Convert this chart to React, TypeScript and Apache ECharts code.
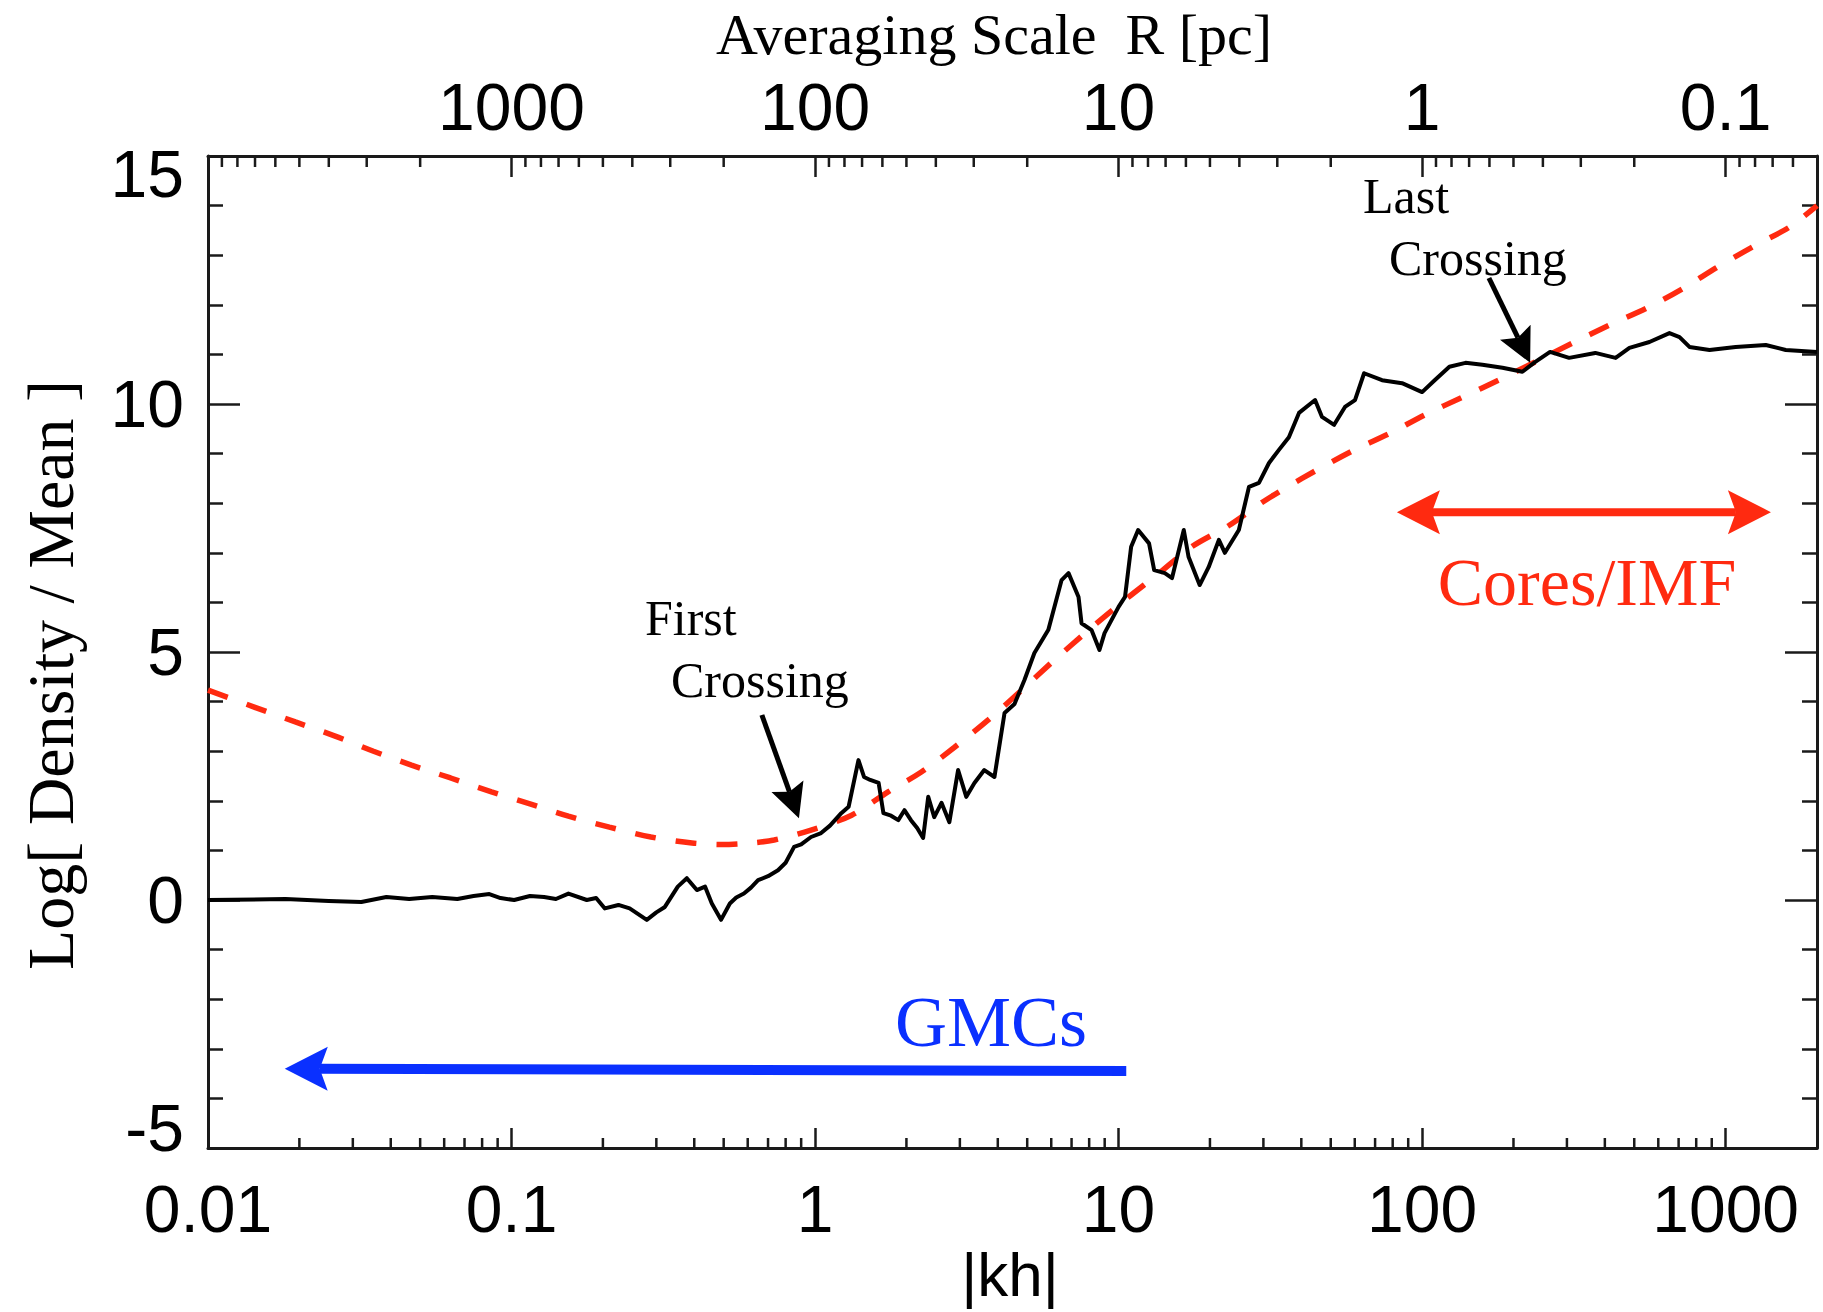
import React, { useEffect, useRef } from 'react';
import * as echarts from 'echarts';

// ---- Data ----
// Black curve: |kh| and Log[Density/Mean]
const kBlack = [0.01, 0.018, 0.025, 0.032, 0.0387, 0.046, 0.0548, 0.0663, 0.075, 0.0845, 0.092, 0.102, 0.115, 0.128, 0.140, 0.154, 0.177, 0.190, 0.203, 0.225, 0.245, 0.279, 0.300, 0.320, 0.353, 0.378, 0.408, 0.434, 0.457, 0.490, 0.524, 0.550, 0.583, 0.615, 0.649, 0.700, 0.755, 0.800, 0.853, 0.900, 0.970, 1.047, 1.12, 1.22, 1.29, 1.39, 1.45, 1.52, 1.62, 1.68, 1.78, 1.88, 1.97, 2.07, 2.17, 2.27, 2.36, 2.47, 2.61, 2.77, 2.96, 3.15, 3.35, 3.61, 3.90, 4.21, 4.54, 4.90, 5.28, 5.87, 6.49, 6.84, 7.38, 7.55, 8.15, 8.65, 8.99, 10.0, 10.5, 11.0, 11.6, 12.6, 13.1, 14.2, 15.0, 16.4, 17.0, 18.5, 19.8, 21.4, 22.4, 24.9, 26.9, 29.0, 31.3, 33.7, 36.4, 39.3, 44.4, 46.8, 51.3, 55.7, 60.1, 64.4, 73.8, 85.9, 100, 110, 123, 139, 158, 184, 214, 236, 264, 305, 372, 434, 482, 561, 653, 705, 760, 885, 1079, 1356, 1578, 2000];
const densityBlack = [0, 0.02, -0.02, -0.04, 0.06, 0.02, 0.06, 0.02, 0.08, 0.12, 0.04, 0, 0.08, 0.06, 0.02, 0.13, 0, 0.04, -0.17, -0.10, -0.17, -0.40, -0.25, -0.14, 0.27, 0.44, 0.20, 0.27, -0.07, -0.40, -0.07, 0.05, 0.13, 0.25, 0.40, 0.48, 0.60, 0.75, 1.07, 1.12, 1.27, 1.35, 1.50, 1.75, 1.88, 2.82, 2.48, 2.42, 2.36, 1.75, 1.70, 1.61, 1.81, 1.61, 1.45, 1.25, 2.08, 1.67, 1.96, 1.57, 2.62, 2.08, 2.36, 2.62, 2.48, 3.77, 3.95, 4.44, 4.98, 5.45, 6.45, 6.59, 6.11, 5.58, 5.44, 5.04, 5.38, 5.91, 6.11, 7.12, 7.46, 7.19, 6.65, 6.59, 6.49, 7.46, 6.92, 6.35, 6.71, 7.26, 7.00, 7.46, 8.33, 8.41, 8.81, 9.07, 9.33, 9.82, 10.08, 9.74, 9.58, 9.94, 10.08, 10.62, 10.48, 10.42, 10.24, 10.48, 10.75, 10.83, 10.79, 10.73, 10.65, 10.85, 11.05, 10.93, 11.03, 10.93, 11.13, 11.25, 11.43, 11.35, 11.15, 11.09, 11.15, 11.19, 11.09, 11.05];

// Red dashed barrier
const kBarrier = [0.01, 0.0142, 0.0194, 0.0261, 0.0351, 0.0468, 0.0630, 0.0859, 0.115, 0.154, 0.210, 0.288, 0.393, 0.493, 0.615, 0.733, 0.970, 1.32, 1.74, 2.24, 2.88, 3.72, 4.79, 6.15, 7.96, 10.5, 13.6, 17.4, 23.1, 30.3, 40.2, 58.7, 77.8, 102, 136, 180, 236, 313, 414, 561, 738, 927, 1228, 1626, 2000];
const densityBarrier = [4.23, 3.89, 3.59, 3.31, 3.00, 2.72, 2.46, 2.18, 1.94, 1.69, 1.47, 1.27, 1.15, 1.12, 1.15, 1.21, 1.41, 1.71, 2.18, 2.58, 3.08, 3.63, 4.23, 4.84, 5.44, 6.05, 6.59, 7.12, 7.55, 8.05, 8.50, 9.05, 9.40, 9.78, 10.14, 10.49, 10.85, 11.23, 11.59, 11.96, 12.36, 12.74, 13.17, 13.57, 14.0];

// Tick labels
const bottomTickLabels = ['0.01', '0.1', '1', '10', '100', '1000'];
const topTickLabels = ['1000', '100', '10', '1', '0.1'];
const yTickLabels = ['-5', '0', '5', '10', '15'];
const minorMultipliers = [2, 3, 4, 5, 6, 7, 8, 9];
const kDecades = [0.01, 0.1, 1, 10, 100, 1000];
const rDecades = [0.01, 0.1, 1, 10, 100, 1000];

// Annotation arrows in data coordinates [|kh|, density]
const arrowGMC = [[10.6, -3.45], [0.0179, -3.40]];
const arrowCores = [[82.6, 7.82], [1410, 7.82]];
const arrowFirst = [[0.668, 3.73], [0.885, 1.65]];
const arrowLast = [[166, 12.54], [227, 10.83]];

const SERIF = '"Liberation Serif", "Times New Roman", serif';
const SANS = '"Liberation Sans", Arial, Helvetica, sans-serif';
const RED = '#ff2a10';
const BLUE = '#0a30ff';
const AXIS = '#1a1a1a';

const K_MIN = 0.01;
const K_MAX = 2000;
const R_MIN = 0.05;
const R_MAX = 10000;

function fmt(v: number) {
  return String(Number(Number(v).toPrecision(6)));
}

export default function App() {
  const ref = useRef<HTMLDivElement>(null);
  useEffect(() => {
    document.body.style.margin = '0';
    if (!ref.current) return;
    const chart = echarts.init(ref.current, undefined, { renderer: 'svg' });

    const bottomMinor: number[][] = [];
    kDecades.forEach((d) => minorMultipliers.forEach((m) => {
      const v = d * m;
      if (v > K_MIN && v < K_MAX) bottomMinor.push([v, -5]);
    }));
    const topMinor: number[][] = [];
    rDecades.forEach((d) => minorMultipliers.forEach((m) => {
      const v = d * m;
      if (v > R_MIN && v < R_MAX) topMinor.push([v, 15]);
    }));

    const minorRender = (len: number) => (params: any, api: any) => {
      const p = api.coord([api.value(0), api.value(1)]);
      const dir = api.value(1) > 0 ? 1 : -1;
      return {
        type: 'line',
        shape: { x1: p[0], y1: p[1], x2: p[0], y2: p[1] + dir * len },
        style: { stroke: AXIS, lineWidth: 2.5 },
      };
    };

    const labelStyle = { fontFamily: SANS, fontSize: 66, color: '#000' };

    chart.setOption({
      animation: false,
      backgroundColor: '#fff',
      grid: { left: 208, right: 6, top: 156, bottom: 164, containLabel: false, outerBoundsMode: 'none' },
      xAxis: [
        {
          type: 'log', min: K_MIN, max: K_MAX, position: 'bottom',
          axisLine: { show: true, onZero: false, lineStyle: { color: AXIS, width: 3 } },
          axisTick: { show: true, inside: true, length: 20, lineStyle: { color: AXIS, width: 2.5 } },
          splitLine: { show: false },
          axisLabel: {
            ...labelStyle, margin: 28, showMaxLabel: false,
            formatter: (v: number) => { const s = fmt(v); return bottomTickLabels.includes(s) ? s : ''; },
          },
        },
        {
          type: 'log', min: R_MIN, max: R_MAX, inverse: true, position: 'top',
          axisLine: { show: true, onZero: false, lineStyle: { color: AXIS, width: 3 } },
          axisTick: { show: true, inside: true, length: 21, lineStyle: { color: AXIS, width: 2.5 } },
          splitLine: { show: false },
          axisLabel: {
            ...labelStyle, margin: 16, showMinLabel: false, showMaxLabel: false,
            formatter: (v: number) => { const s = fmt(v); return topTickLabels.includes(s) ? s : ''; },
          },
        },
      ],
      yAxis: [
        {
          type: 'value', min: -5, max: 15, interval: 5, position: 'left',
          axisLine: { show: true, onZero: false, lineStyle: { color: AXIS, width: 3 } },
          axisTick: { show: true, inside: true, length: 32, lineStyle: { color: AXIS, width: 2.5 } },
          minorTick: { show: true, splitNumber: 5, length: 15, lineStyle: { color: AXIS, width: 2.5 } },
          splitLine: { show: false },
          axisLabel: {
            ...labelStyle, margin: 24,
            formatter: (v: number) => {
              const s = fmt(v);
              if (!yTickLabels.includes(s)) return '';
              if (s === '15') return '{lo|' + s + '}';
              if (s === '-5') return '{hi|' + s + '}';
              return s;
            },
            rich: {
              lo: { fontFamily: SANS, fontSize: 66, color: '#000', padding: [36, 0, 0, 0] },
              hi: { fontFamily: SANS, fontSize: 66, color: '#000', padding: [0, 0, 40, 0] },
            },
          },
        },
        {
          type: 'value', min: -5, max: 15, interval: 5, position: 'right',
          axisLine: { show: true, onZero: false, lineStyle: { color: AXIS, width: 3 } },
          axisTick: { show: true, inside: true, length: 32, lineStyle: { color: AXIS, width: 2.5 } },
          minorTick: { show: true, splitNumber: 5, length: 15, lineStyle: { color: AXIS, width: 2.5 } },
          splitLine: { show: false },
          axisLabel: { show: false },
        },
      ],
      series: [
        {
          name: 'barrier', type: 'line', xAxisIndex: 0, yAxisIndex: 0,
          data: kBarrier.map((k, i) => [k, densityBarrier[i]]),
          showSymbol: false, symbol: 'none', smooth: 0.3,
          lineStyle: { color: RED, width: 5.5, type: [21, 20], cap: 'butt' },
          z: 3,
        },
        {
          name: 'density', type: 'line', xAxisIndex: 0, yAxisIndex: 0,
          data: kBlack.map((k, i) => [k, densityBlack[i]]),
          showSymbol: false, symbol: 'none',
          lineStyle: { color: '#000', width: 4, join: 'round' },
          z: 4,
        },
        {
          type: 'custom', xAxisIndex: 0, yAxisIndex: 0, silent: true,
          data: bottomMinor, renderItem: minorRender(10), clip: false, z: 5,
        },
        {
          type: 'custom', xAxisIndex: 1, yAxisIndex: 0, silent: true,
          data: topMinor, renderItem: minorRender(11), clip: false, z: 5,
        },
      ],
    });

    const toPx = (pt: number[]) => chart.convertToPixel({ xAxisIndex: 0, yAxisIndex: 0 }, pt) as number[];

    const arrowEls = (pts: number[][], color: string, shaftW: number, headLen: number, headHalf: number, notch: number, both: boolean) => {
      const a = toPx(pts[0]);
      const b = toPx(pts[1]);
      const dx = b[0] - a[0];
      const dy = b[1] - a[1];
      const L = Math.hypot(dx, dy);
      const ux = dx / L, uy = dy / L;
      const nx = -uy, ny = ux;
      const head = (tip: number[], sx: number, sy: number) => {
        const bx = tip[0] - sx * headLen, by = tip[1] - sy * headLen;
        const mx = tip[0] - sx * (headLen - notch), my = tip[1] - sy * (headLen - notch);
        return {
          type: 'polygon',
          shape: { points: [[tip[0], tip[1]], [bx + nx * headHalf, by + ny * headHalf], [mx, my], [bx - nx * headHalf, by - ny * headHalf]] },
          style: { fill: color },
          z: 20,
        };
      };
      const start = both ? [a[0] + ux * (headLen - notch), a[1] + uy * (headLen - notch)] : a;
      const end = [b[0] - ux * (headLen - notch), b[1] - uy * (headLen - notch)];
      const els: any[] = [
        { type: 'line', shape: { x1: start[0], y1: start[1], x2: end[0], y2: end[1] }, style: { stroke: color, lineWidth: shaftW }, z: 19 },
        head(b, ux, uy),
      ];
      if (both) els.push(head(a, -ux, -uy));
      return els;
    };

    const text = (t: string, x: number, y: number, size: number, color: string, align: string, font = SERIF, rotation = 0) => ({
      type: 'text', x, y, rotation, z: 30,
      style: { text: t, fontSize: size, fontFamily: font, fill: color, align, verticalAlign: 'middle' },
    });

    chart.setOption({
      graphic: [
        ...arrowEls(arrowGMC, BLUE, 10, 43, 22, 8, false),
        ...arrowEls(arrowCores, RED, 8, 43, 22, 8, true),
        ...arrowEls(arrowFirst, '#000', 5, 34, 17, 6, false),
        ...arrowEls(arrowLast, '#000', 5, 34, 17, 6, false),
        text('Averaging Scale  R [pc]', 994, 34, 58, '#000', 'center'),
        text('Log[ Density / Mean ]', 50, 675, 66, '#000', 'center', SERIF, Math.PI / 2),
        text('|kh|', 1010, 1274, 62, '#000', 'center', SANS),
        text('First', 645, 618, 50, '#000', 'left'),
        text('Crossing', 671, 680, 50, '#000', 'left'),
        text('Last', 1363, 196, 50, '#000', 'left'),
        text('Crossing', 1389, 258, 50, '#000', 'left'),
        text('Cores/IMF', 1587, 582, 68, RED, 'center'),
        text('GMCs', 991, 1022, 72, BLUE, 'center'),
      ],
    });

    return () => chart.dispose();
  }, []);

  return <div ref={ref} style={{ width: 1823, height: 1312 }} />;
}
